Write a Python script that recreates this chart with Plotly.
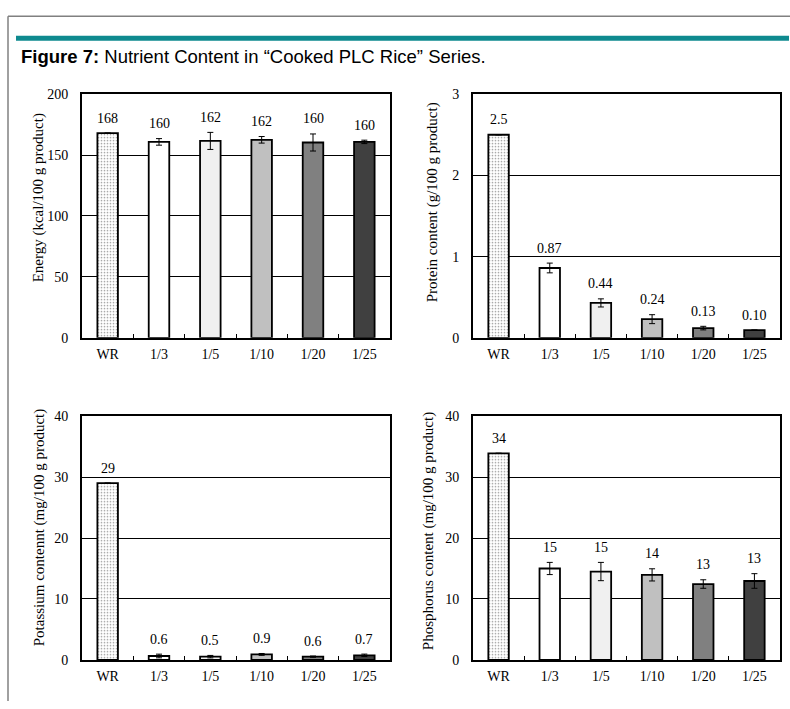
import plotly.graph_objects as go

categories = ["WR", "1/3", "1/5", "1/10", "1/20", "1/25"]

energy = [168, 160.8, 161.6, 162.5, 160.3, 160.8]
energy_err = [0, 2.7, 7, 2.7, 7, 1.4]
energy_labels = ["168", "160", "162", "162", "160", "160"]

protein = [2.5, 0.86, 0.43, 0.23, 0.12, 0.095]
protein_err = [0, 0.06, 0.05, 0.055, 0.022, 0.0]
protein_labels = ["2.5", "0.87", "0.44", "0.24", "0.13", "0.10"]

potassium = [29, 0.64, 0.53, 0.9, 0.53, 0.75]
potassium_err = [0, 0.3, 0.2, 0.15, 0.1, 0.2]
potassium_labels = ["29", "0.6", "0.5", "0.9", "0.6", "0.7"]

phosphorus = [33.9, 15.0, 14.5, 13.95, 12.45, 12.95]
phosphorus_err = [0, 1.0, 1.5, 1.0, 0.7, 1.2]
phosphorus_labels = ["34", "15", "15", "14", "13", "13"]

bar_colors = ["white", "white", "#f0f0f0", "#c0c0c0", "#808080", "#404040"]
bar_patterns = [".", "", "", "", "", ""]

W, H = 790, 709
SERIF = "Liberation Serif, Times New Roman, serif"

panels = [
    dict(vals=energy, err=energy_err, labels=energy_labels, rng=[0, 200], dtick=50,
         title="Energy (kcal/100 g product)", px=(82, 390), py=(89, 338), tpos=(38.5, 195)),
    dict(vals=protein, err=protein_err, labels=protein_labels, rng=[0, 3], dtick=1,
         title="Protein content (g/100 g product)", px=(473, 780), py=(89, 338), tpos=(432.5, 200)),
    dict(vals=potassium, err=potassium_err, labels=potassium_labels, rng=[0, 40], dtick=10,
         title="Potassium contennt (mg/100 g product)", px=(82, 390), py=(418, 667), tpos=(39, 532.5)),
    dict(vals=phosphorus, err=phosphorus_err, labels=phosphorus_labels, rng=[0, 40], dtick=10,
         title="Phosphorus content (mg/100 g product)", px=(473, 780), py=(418, 667), tpos=(428.5, 536)),
]

fig = go.Figure()
layout = {}
annotations = []

for i, p in enumerate(panels, start=1):
    xa = "x" if i == 1 else f"x{i}"
    ya = "y" if i == 1 else f"y{i}"
    fig.add_trace(go.Bar(
        x=categories, y=p["vals"], xaxis=xa, yaxis=ya,
        marker=dict(color=bar_colors, line=dict(color="black", width=1.8),
                    pattern=dict(shape=bar_patterns, fgcolor="#777777", bgcolor="white",
                                 size=3, solidity=0.25)),
        error_y=dict(type="data", array=p["err"], visible=True, color="black",
                     thickness=1, width=3),
        showlegend=False, hoverinfo="skip",
    ))
    kx = "xaxis" if i == 1 else f"xaxis{i}"
    ky = "yaxis" if i == 1 else f"yaxis{i}"
    layout[kx] = dict(
        domain=[p["px"][0] / W, p["px"][1] / W], anchor=ya,
        showline=True, mirror=True, linecolor="black", linewidth=2,
        ticks="inside", tickson="boundaries", ticklen=4, tickcolor="black", tickwidth=1,
        tickfont=dict(family=SERIF, size=14, color="black"), ticklabelstandoff=2,
        showgrid=False, fixedrange=True,
    )
    layout[ky] = dict(
        domain=[1 - p["py"][1] / H, 1 - p["py"][0] / H], anchor=xa,
        range=p["rng"], dtick=p["dtick"],
        showline=True, mirror=True, linecolor="black", linewidth=2,
        showgrid=True, gridcolor="black", gridwidth=1, zeroline=False,
        ticks="", tickfont=dict(family=SERIF, size=14, color="black"), ticklabelstandoff=9,
        fixedrange=True,
    )
    annotations.append(dict(
        x=p["tpos"][0] / W, y=1 - p["tpos"][1] / H, xref="paper", yref="paper",
        xanchor="center", yanchor="middle", textangle=-90, showarrow=False,
        text=p["title"], font=dict(family=SERIF, size=15, color="black"),
    ))
    for c, v, e, t in zip(categories, p["vals"], p["err"], p["labels"]):
        annotations.append(dict(
            x=c, y=v + e, xref=xa, yref=ya, text=t, showarrow=False,
            yanchor="middle", yshift=15,
            font=dict(family=SERIF, size=14, color="black"),
        ))

annotations.append(dict(
    x=19 / W, y=1 - 51 / H, xref="paper", yref="paper", xanchor="left", yanchor="middle",
    text="<b>Figure 7:</b> Nutrient Content in “Cooked PLC Rice” Series.",
    showarrow=False, font=dict(family="Liberation Sans, Arial, sans-serif", size=18.5, color="black"),
))

shapes = [
    dict(type="line", xref="paper", yref="paper", x0=8 / W, x1=1, y0=1 - 9.5 / H, y1=1 - 9.5 / H,
         line=dict(color="#808080", width=1.5)),
    dict(type="line", xref="paper", yref="paper", x0=8 / W, x1=8 / W, y0=0, y1=1 - 9.5 / H,
         line=dict(color="#808080", width=1.5)),
    dict(type="line", xref="paper", yref="paper", x0=16 / W, x1=789 / W, y0=1 - 32 / H, y1=1 - 32 / H,
         line=dict(color="#0e8a8f", width=5)),
]

fig.update_layout(
    width=W, height=H, margin=dict(l=0, r=0, t=0, b=0),
    paper_bgcolor="white", plot_bgcolor="white",
    bargap=0.6, annotations=annotations, shapes=shapes, **layout,
)

post = (
    "document.documentElement.style.margin='0px';"
    "document.documentElement.style.overflow='hidden';"
    "document.body.style.margin='0px';"
    "document.body.style.overflow='hidden';"
    "var d=document.querySelector('.plotly-graph-div');"
    "d.style.position='absolute';d.style.left='0px';d.style.top='0px';"
)

fig.write_html("out.html", config=dict(displayModeBar=False), post_script=post)
